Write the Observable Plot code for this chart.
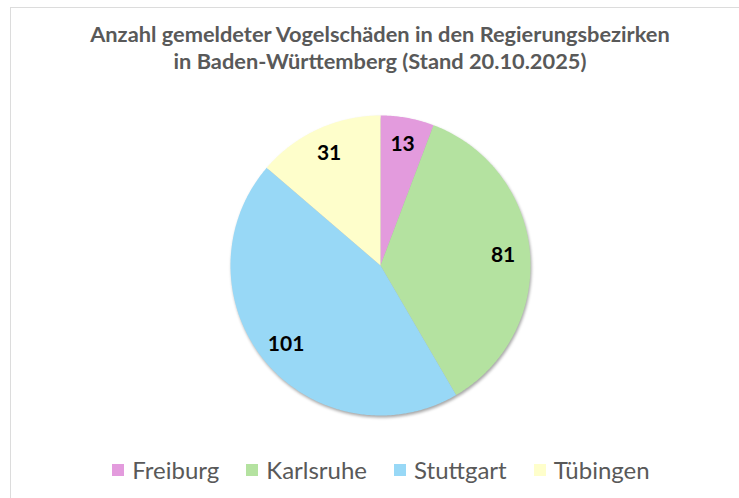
<!DOCTYPE html>
<html><head><meta charset="utf-8">
<script src="https://cdn.jsdelivr.net/npm/d3@7"></script>
<script src="https://cdn.jsdelivr.net/npm/@observablehq/plot@0.6"></script>
<style>
body{margin:0;background:#fff;width:739px;height:498px;overflow:hidden;position:relative;font-family:Lato,"Open Sans",sans-serif;}
#frame{position:absolute;left:10px;top:7px;width:760px;height:520px;border-left:1.5px solid #dcdcdc;border-top:1.5px solid #dcdcdc;}
#title{position:absolute;left:0;top:20px;width:760px;text-align:center;color:#595959;font-weight:bold;font-size:21.8px;line-height:27px;}
#chart{position:absolute;left:0;top:0;}
#legend{position:absolute;left:0;top:455px;width:762px;display:flex;justify-content:center;gap:27px;color:#595959;font-size:24px;}
#legend .item{display:flex;align-items:center;}
#legend .sw{width:12px;height:12px;margin-right:8px;}
</style></head>
<body>
<div id="frame"></div>
<div id="chart"></div>
<div id="title"></div>
<div id="legend"></div>
<script>
const titleLines = ["Anzahl gemeldeter Vogelschäden in den Regierungsbezirken", "in Baden-Württemberg (Stand 20.10.2025)"];
const categories = ["Freiburg", "Karlsruhe", "Stuttgart", "Tübingen"];
const values = [13, 81, 101, 31];
const colors = ["#e39bdd", "#b4e2a0", "#98d8f6", "#fefecb"];

document.getElementById("title").innerHTML = titleLines.join("<br>");

const arcs = d3.pie().sort(null).value(d => d.value)(categories.map((c, i) => ({name: c, value: values[i]})));
const poly = [];
for (const a of arcs) {
  poly.push({name: a.data.name, x: 0, y: 0});
  const n = Math.max(4, Math.ceil((a.endAngle - a.startAngle) / 0.01));
  for (let k = 0; k <= n; k++) {
    const t = a.startAngle + (a.endAngle - a.startAngle) * k / n;
    poly.push({name: a.data.name, x: Math.sin(t), y: Math.cos(t)});
  }
}
const labels = arcs.map(a => {
  const m = (a.startAngle + a.endAngle) / 2;
  return {label: String(a.data.value), x: 0.82 * Math.sin(m), y: 0.82 * Math.cos(m)};
});

const R = 150, cx = 380, cy = 265, W = 739, H = 498;
const svg = Plot.plot({
  width: W, height: H, margin: 0,
  x: {domain: [-cx / R, (W - cx) / R], axis: null},
  y: {domain: [-(H - cy) / R, cy / R], axis: null},
  color: {domain: categories, range: colors},
  style: {background: "transparent", overflow: "visible"},
  marks: [
    Plot.line(poly, {x: "x", y: "y", z: "name", fill: "name", stroke: null, curve: "linear-closed"}),
    Plot.text(labels, {x: "x", y: "y", text: "label", fill: "#000", fontWeight: "bold", fontSize: 21, fontFamily: "Lato"})
  ]
});
d3.select(svg).selectAll('g[aria-label="line"]').style("filter", "drop-shadow(1px 2px 1.5px rgba(0,0,0,0.35))");
document.getElementById("chart").appendChild(svg);

const leg = document.getElementById("legend");
categories.forEach((c, i) => {
  const it = document.createElement("div");
  it.className = "item";
  it.innerHTML = `<div class="sw" style="background:${colors[i]}"></div><span>${c}</span>`;
  leg.appendChild(it);
});
</script>
</body></html>
